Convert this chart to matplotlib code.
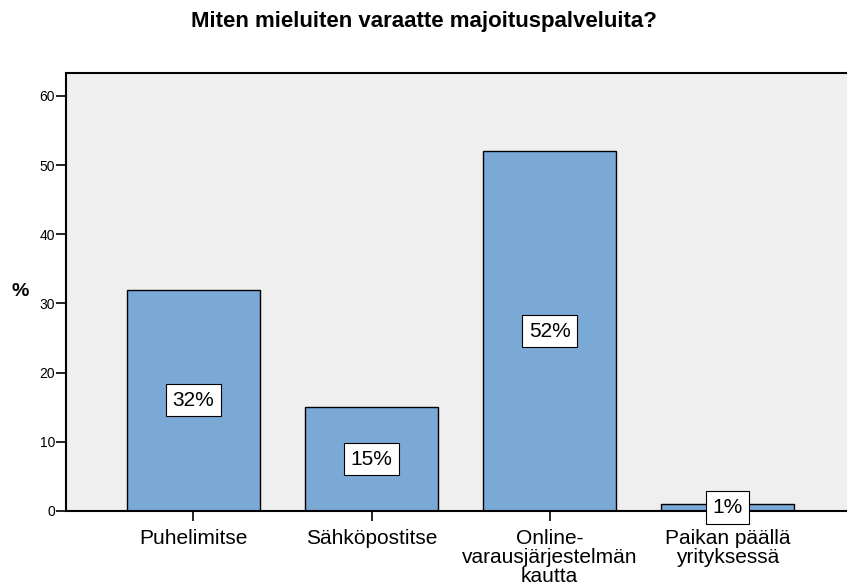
import numpy as np
import matplotlib.pyplot as plt

plt.rcParams['font.family'] = ['Liberation Sans', 'DejaVu Sans']

categories = ['Puhelimitse', 'Sähköpostitse', 'Online-\nvarausjärjestelmän\nkautta', 'Paikan päällä\nyrityksessä']
values = [32, 15, 52, 1]
labels = ['32%', '15%', '52%', '1%']

fig = plt.figure(figsize=(8.47, 5.87), dpi=100)
ax = fig.add_axes([66/847, 76/587, 1 - 66/847, 438/587])
ax.set_facecolor('#efefef')

x = np.arange(len(categories))
ax.bar(x, values, width=0.747, color='#7ba9d6', edgecolor='black', linewidth=1, zorder=2)

for xi, v, lab in zip(x, values, labels):
    ax.text(xi, v / 2, lab, ha='center', va='center', fontsize=15, zorder=3,
            bbox=dict(boxstyle='square,pad=0.32', facecolor='white', edgecolor='black', linewidth=0.8))

ax.set_xlim(-0.716, 3.67)
ax.set_ylim(0, 63.3)
ax.set_yticks(range(0, 61, 10))
ax.set_xticks(x)
ax.set_xticklabels(categories, fontsize=15, linespacing=1.0)
ax.tick_params(axis='y', labelsize=10, length=7, width=1.2, pad=1)
ax.tick_params(axis='x', length=7, width=1.2, pad=6)

for side in ['left', 'bottom', 'top']:
    ax.spines[side].set_linewidth(1.5)
ax.spines['right'].set_visible(False)

ax.set_ylabel('%', fontsize=14, fontweight='bold', rotation=0, labelpad=14, va='center')
fig.suptitle('Miten mieluiten varaatte majoituspalveluita?', fontsize=16, fontweight='bold', x=0.5, y=0.982)

plt.savefig('out.png', dpi=100)
